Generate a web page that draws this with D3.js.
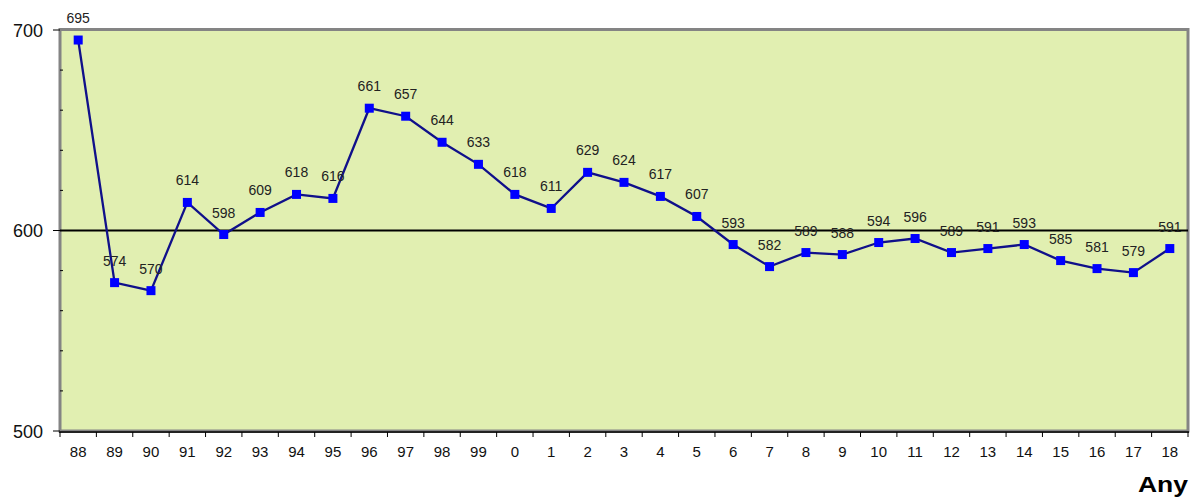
<!DOCTYPE html>
<html><head><meta charset="utf-8">
<script src="https://cdn.jsdelivr.net/npm/d3@7"></script>
<style>body{margin:0;background:#fff;}svg{display:block;font-family:Arial,"Liberation Sans",sans-serif;}</style>
</head><body><svg id="c" width="1193" height="500"></svg>
<script>
const categories = ["88","89","90","91","92","93","94","95","96","97","98","99","0","1","2","3","4","5","6","7","8","9","10","11","12","13","14","15","16","17","18"];
const values = [695,574,570,614,598,609,618,616,661,657,644,633,618,611,629,624,617,607,593,582,589,588,594,596,589,591,593,585,581,579,591];
const yTicks = [500,600,700];
const yMinor = [520,540,560,580,620,640,660,680];
const refLine = 600;
const axisTitle = "Any";

const svg = d3.select("#c");
const L=60, R=1188, T=30, B=431;
const x = d3.scaleBand().domain(categories).range([L,R]).paddingInner(0).paddingOuter(0);
const y = d3.scaleLinear().domain([500,700]).range([B,T]);

svg.append("rect").attr("x",L).attr("y",T).attr("width",R-L).attr("height",B-T).attr("fill","#e1efb1");
svg.append("rect").attr("x",L).attr("y",T-0.5).attr("width",R-L).attr("height",B-T+0.5)
  .attr("fill","none").attr("stroke","#848484").attr("stroke-width",3);

svg.selectAll(".mt").data(yMinor).enter().append("line")
  .attr("x1",L).attr("x2",L+3).attr("y1",d=>y(d)).attr("y2",d=>y(d)).attr("stroke","#000").attr("stroke-width",1);
svg.selectAll(".Mt").data(yTicks).enter().append("line")
  .attr("x1",L-7).attr("x2",L).attr("y1",d=>y(d)).attr("y2",d=>y(d)).attr("stroke","#000").attr("stroke-width",1);
svg.selectAll(".yl").data(yTicks).enter().append("text")
  .attr("x",43).attr("y",d=>y(d)+6.5).attr("text-anchor","end").attr("font-size",18).attr("fill","#111").text(d=>d);

svg.append("line").attr("x1",L-1).attr("x2",R+1).attr("y1",B+1).attr("y2",B+1).attr("stroke","#222").attr("stroke-width",2);
const bounds = categories.map(c=>x(c)).concat([R]);
svg.selectAll(".xt").data(bounds).enter().append("line")
  .attr("x1",d=>d).attr("x2",d=>d).attr("y1",B+1).attr("y2",B+6).attr("stroke","#000").attr("stroke-width",1);
svg.selectAll(".xl").data(categories).enter().append("text")
  .attr("x",d=>x(d)+x.bandwidth()/2).attr("y",457).attr("text-anchor","middle").attr("font-size",15).attr("fill","#111").text(d=>d);

svg.append("line").attr("x1",L).attr("x2",R).attr("y1",y(refLine)).attr("y2",y(refLine)).attr("stroke","#000").attr("stroke-width",2);

const pts = categories.map((c,i)=>({c,v:values[i]}));
const line = d3.line().x(d=>x(d.c)+x.bandwidth()/2).y(d=>y(d.v));
svg.append("path").datum(pts).attr("d",line).attr("fill","none").attr("stroke","#10108a").attr("stroke-width",2.3);
svg.selectAll(".pt").data(pts).enter().append("rect")
  .attr("x",d=>x(d.c)+x.bandwidth()/2-4.5).attr("y",d=>y(d.v)-4.5).attr("width",9).attr("height",9).attr("fill","#0000ff");
svg.selectAll(".dl").data(pts).enter().append("text")
  .attr("x",d=>x(d.c)+x.bandwidth()/2).attr("y",d=>y(d.v)-17).attr("text-anchor","middle")
  .attr("font-size",14).attr("fill","#222").text(d=>d.v);

svg.append("text").attr("x",1188).attr("y",492).attr("text-anchor","end").attr("font-size",22).attr("font-weight","bold")
  .attr("fill","#000").attr("textLength",50).attr("lengthAdjust","spacingAndGlyphs").text(axisTitle);
</script></body></html>
